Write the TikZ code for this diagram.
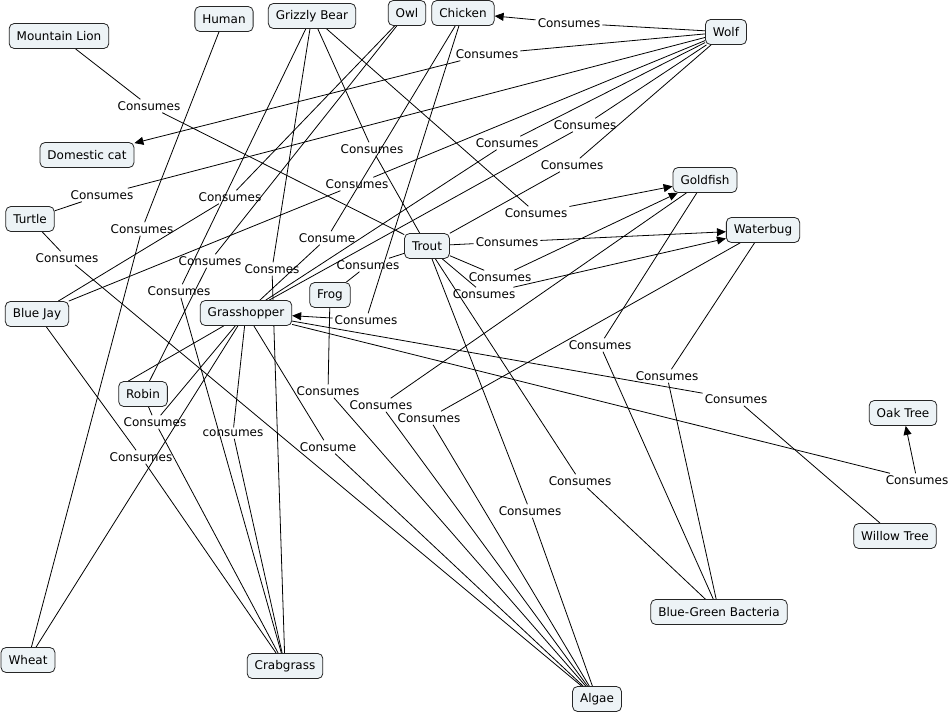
\documentclass[tikz,border=0pt]{standalone}
\usepackage{fontspec}
\setmainfont{DejaVu Sans}
\usetikzlibrary{arrows.meta}
\usetikzlibrary{backgrounds}
\definecolor{conceptfill}{RGB}{237,243,246}
\newcommand{\mapfont}{\fontsize{12}{14}\selectfont}

\begin{document}
\begin{tikzpicture}[x=1pt,y=-1pt]
                \useasboundingbox (0,0) rectangle (951,715);
                % concepts
                \begin{scope}[every node/.style={rectangle,rounded corners=5pt,draw=black!85,fill=conceptfill,line width=0.8pt,inner xsep=7.5pt,minimum height=25pt,font=\mapfont}]
                    \node (mlion) at (59,36) {Mountain Lion};
                    \node (human) at (224,19) {Human};
                    \node (grizzly) at (312,16) {Grizzly Bear};
                    \node (owl) at (407,13) {Owl};
                    \node (chicken) at (463,13) {Chicken};
                    \node (wolf) at (726,32) {Wolf};
                    \node (cat) at (87,155) {Domestic cat};
                    \node (turtle) at (30,219) {Turtle};
                    \node (goldfish) at (705,180) {Goldfish};
                    \node (waterbug) at (763,230) {Waterbug};
                    \node (trout) at (427,246) {Trout};
                    \node (frog) at (330,295) {Frog};
                    \node (bluejay) at (37,314) {Blue Jay};
                    \node (grasshopper) at (246,313) {Grasshopper};
                    \node (robin) at (143,394) {Robin};
                    \node (oak) at (903,413) {Oak Tree};
                    \node (willow) at (895,536) {Willow Tree};
                    \node (wheat) at (28,660) {Wheat};
                    \node (crabgrass) at (285,666) {Crabgrass};
                    \node (bgb) at (719,612) {Blue-Green Bacteria};
                    \node (algae) at (597,699) {Algae};
                \end{scope}

                % linking phrases
                \begin{scope}[every node/.style={inner sep=2pt,font=\mapfont}]
                    \node (l1) at (569,23) {Consumes};
                    \node (l2) at (487,54) {Consumes};
                    \node (l3) at (149,106) {Consumes};
                    \node (l4) at (372,149) {Consumes};
                    \node (l5) at (357,184) {Consumes};
                    \node (l6) at (230,197) {Consumes};
                    \node (l7) at (102,195) {Consumes};
                    \node (l8) at (142,229) {Consumes};
                    \node (l9) at (67,258) {Consumes};
                    \node (l10) at (210,261) {Consumes};
                    \node (l11) at (179,291) {Consumes};
                    \node (l12) at (272,269) {Consmes};
                    \node (l13) at (327,238) {Consume};
                    \node (l14) at (368,265) {Consumes};
                    \node (l15) at (366,320) {Consumes};
                    \node (l16) at (507,143) {Consumes};
                    \node (l17) at (585,125) {Consumes};
                    \node (l18) at (572,165) {Consumes};
                    \node (l19) at (536,213) {Consumes};
                    \node (l20) at (507,242) {Consumes};
                    \node (l21) at (500,277) {Consumes};
                    \node (l22) at (484,294) {Consumes};
                    \node (l23) at (600,345) {Consumes};
                    \node (l24) at (667,376) {Consumes};
                    \node (l25) at (736,399) {Consumes};
                    \node (l26) at (917,480) {Consumes};
                    \node (l27) at (580,481) {Consumes};
                    \node (l28) at (530,511) {Consumes};
                    \node (l29) at (381,405) {Consumes};
                    \node (l30) at (429,418) {Consumes};
                    \node (l31) at (328,391) {Consumes};
                    \node (l32) at (328,447) {Consume};
                    \node (l33) at (155,422) {Consumes};
                    \node (l34) at (141,457) {Consumes};
                    \node (l35) at (233,433) {consumes};
                \end{scope}

                \begin{scope}[on background layer,>={Triangle[length=9pt,width=8pt]},
                    every edge/.style={draw=black,line width=0.8pt}]
                    \fill[white] (0,0) rectangle (951,715);
                    % wolf
                    \path (wolf) edge (l1);
                    \path [->] (l1) edge (chicken);
                    \path (wolf) edge (l2);
                    \path [->] (l2) edge (cat);
                    \path (wolf) edge (l5) (l5) edge (bluejay);
                    \path (wolf) edge (l7) (l7) edge (turtle);
                    \path (wolf) edge (l16) (l16) edge (grasshopper);
                    \path (wolf) edge (l17) (l17) edge (grasshopper);
                    \path (wolf) edge (l18) (l18) edge (trout);

                    % mountain lion, human
                    \path (mlion) edge (l3) (l3) edge (trout);
                    \path (human) edge (l8) (l8) edge (wheat);

                    % grizzly bear
                    \path (grizzly) edge (l4) (l4) edge (trout);
                    \path (grizzly) edge (l11) (l11) edge (crabgrass);
                    \path (grizzly) edge (l12) (l12) edge (crabgrass);
                    \path (grizzly) edge (l19);
                    \path [->] (l19) edge (goldfish);

                    % owl, chicken
                    \path (owl) edge (l6) (l6) edge (bluejay);
                    \path (owl) edge (l10) (l10) edge (robin);
                    \path (chicken) edge (l13) (l13) edge (grasshopper);
                    \path (chicken) edge (l15);
                    \path [->] (l15) edge (grasshopper);

                    % turtle, blue jay, robin
                    \path (turtle) edge (l9) (l9) edge (algae);
                    \path (bluejay) edge (l34) (l34) edge (crabgrass);
                    \path (robin) edge (l33) (l33) edge (grasshopper) (l33) edge (crabgrass);
                    \path ([xshift=10pt]robin.north west) edge (grasshopper);

                    % trout
                    \path (trout) edge (l14) (l14) edge (frog);
                    \path (trout) edge (l20);
                    \path [->] (l20) edge (waterbug);
                    \path (trout) edge (l21);
                    \path [->] (l21) edge (goldfish);
                    \path (trout) edge (l22);
                    \path [->] (l22) edge (waterbug);
                    \path (trout) edge (l27) (l27) edge (bgb);
                    \path (trout) edge (l28) (l28) edge (algae);

                    % goldfish, waterbug, frog
                    \path (goldfish) edge (l23) (l23) edge (bgb);
                    \path (goldfish) edge (l29) (l29) edge (algae);
                    \path (waterbug) edge (l24) (l24) edge (bgb);
                    \path (waterbug) edge (l30) (l30) edge (algae);
                    \path (frog) edge (l31) (l31) edge (algae);

                    % grasshopper
                    \path (grasshopper) edge (l32) (l32) edge (algae);
                    \path (grasshopper) edge (l35) (l35) edge (crabgrass);
                    \path (grasshopper) edge (wheat);
                    \path (grasshopper) edge (l25) (l25) edge (willow);
                    \path (grasshopper) edge (l26);
                    \path [->] (l26) edge (oak);
                \end{scope}
            \end{tikzpicture}
\end{document}
